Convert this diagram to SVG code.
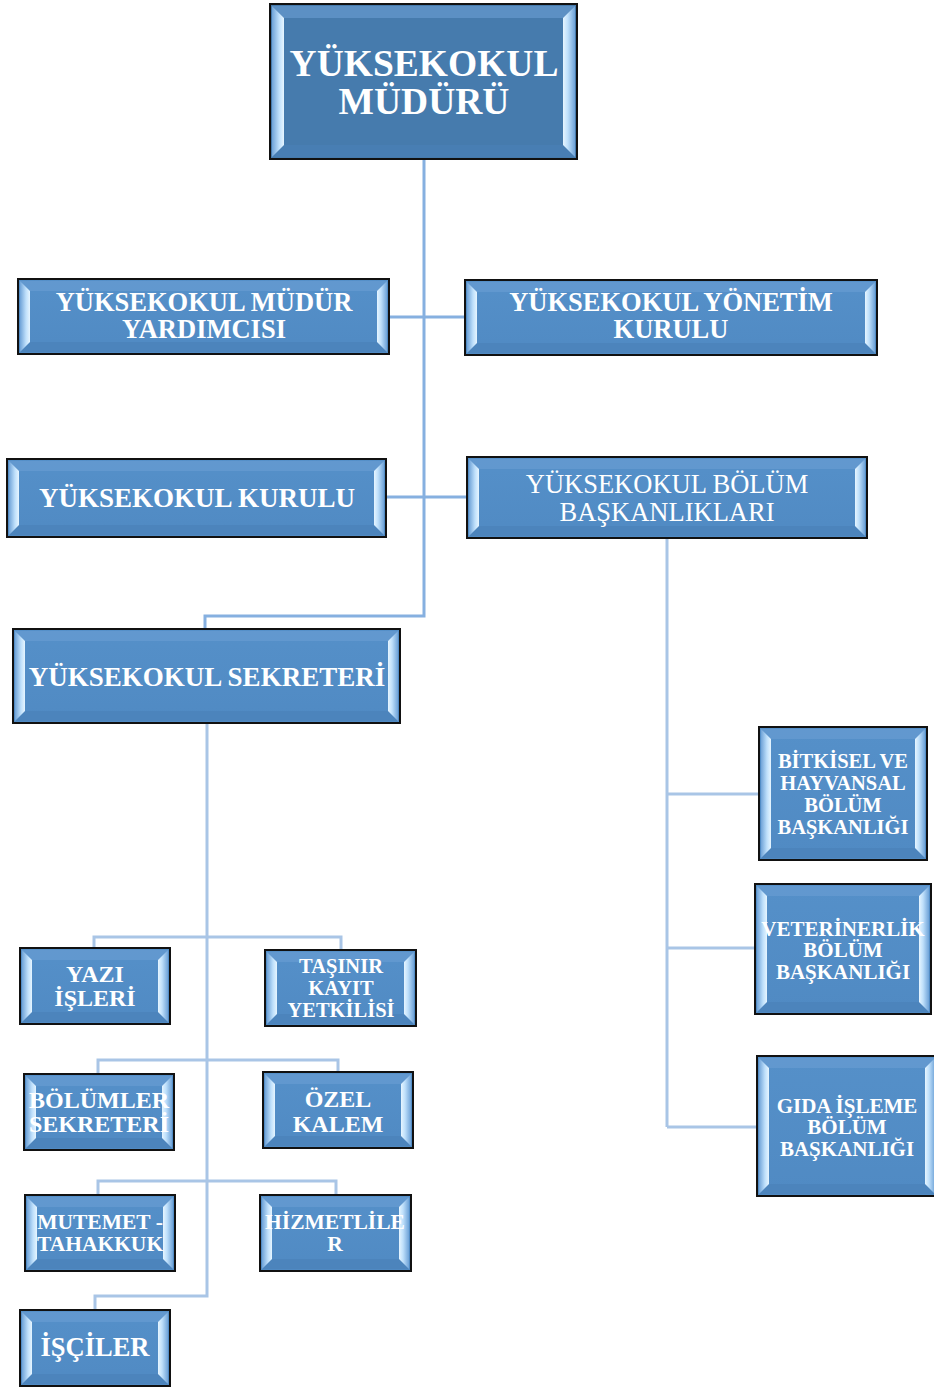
<svg xmlns="http://www.w3.org/2000/svg" width="934" height="1387" viewBox="0 0 934 1387">
<defs>
<linearGradient id="gl" x1="0" y1="0" x2="1" y2="0"><stop offset="0" stop-color="#6fa3d8"/><stop offset="0.6" stop-color="#bfe0fb"/><stop offset="1" stop-color="#e6f5ff"/></linearGradient>
<linearGradient id="gr" x1="1" y1="0" x2="0" y2="0"><stop offset="0" stop-color="#6fa3d8"/><stop offset="0.6" stop-color="#bfe0fb"/><stop offset="1" stop-color="#e6f5ff"/></linearGradient>
<linearGradient id="fill" x1="0" y1="0" x2="0" y2="1"><stop offset="0" stop-color="#5590c9"/><stop offset="1" stop-color="#508ac3"/></linearGradient>
</defs>
<style>
.box{fill:url(#fill);stroke:#111;stroke-width:2}
.boxd{fill:#467bad;stroke:#111;stroke-width:2}
.t{fill:#6a9fd4;opacity:0.6}
.b{fill:#4a80b8;opacity:0.6}
.l{fill:url(#gl)}
.r{fill:url(#gr)}
.tx{font-family:"Liberation Serif","Times New Roman",serif;font-weight:bold;fill:#fff;text-anchor:middle}
.tn{font-weight:normal}
.c1{fill:none;stroke:#86b0e0;stroke-width:3}
.c2{fill:none;stroke:#a9c5e6;stroke-width:3}
</style>
<g id="connectors">
<path class="c1" d="M424 159V616H205V629M389 317H465M386 497H467"/>
<path class="c2" d="M667 538V1127M667 794H759M667 948H755M667 1127H757"/>
<path class="c2" d="M207 723V1296H95V1310M94 948V937H341V950M98 1074V1060H338V1072M98 1195V1181H336V1195"/>
</g>
<g id="n1">
<rect class="boxd" x="270" y="4" width="307" height="155"/>
<polygon class="t" points="272,6 575,6 563,18 284,18"/>
<polygon class="b" points="272,157 575,157 563,145 284,145"/>
<polygon class="l" points="272,6 284,18 284,145 272,157"/>
<polygon class="r" points="575,6 563,18 563,145 575,157"/>
<text class="tx" font-size="37.5" x="424" y="76">YÜKSEKOKUL</text>
<text class="tx" font-size="37.5" x="424" y="114">MÜDÜRÜ</text>
</g>
<g id="n2">
<rect class="box" x="18" y="279" width="371" height="75"/>
<polygon class="t" points="20,281 387,281 377,291 30,291"/>
<polygon class="b" points="20,352 387,352 377,342 30,342"/>
<polygon class="l" points="20,281 30,291 30,342 20,352"/>
<polygon class="r" points="387,281 377,291 377,342 387,352"/>
<text class="tx" font-size="26.5" x="204" y="311">YÜKSEKOKUL MÜDÜR</text>
<text class="tx" font-size="26.5" x="204" y="338">YARDIMCISI</text>
</g>
<g id="n3">
<rect class="box" x="465" y="280" width="412" height="75"/>
<polygon class="t" points="467,282 875,282 865,292 477,292"/>
<polygon class="b" points="467,353 875,353 865,343 477,343"/>
<polygon class="l" points="467,282 477,292 477,343 467,353"/>
<polygon class="r" points="875,282 865,292 865,343 875,353"/>
<text class="tx" font-size="26.5" x="671" y="311">YÜKSEKOKUL YÖNETİM</text>
<text class="tx" font-size="26.5" x="671" y="338">KURULU</text>
</g>
<g id="n4">
<rect class="box" x="7" y="459" width="379" height="78"/>
<polygon class="t" points="9,461 384,461 374,471 19,471"/>
<polygon class="b" points="9,535 384,535 374,525 19,525"/>
<polygon class="l" points="9,461 19,471 19,525 9,535"/>
<polygon class="r" points="384,461 374,471 374,525 384,535"/>
<text class="tx" font-size="27" x="197" y="507">YÜKSEKOKUL KURULU</text>
</g>
<g id="n5">
<rect class="box" x="467" y="457" width="400" height="81"/>
<polygon class="t" points="469,459 865,459 855,469 479,469"/>
<polygon class="b" points="469,536 865,536 855,526 479,526"/>
<polygon class="l" points="469,459 479,469 479,526 469,536"/>
<polygon class="r" points="865,459 855,469 855,526 865,536"/>
<text class="tx tn" font-size="26.5" x="667" y="493">YÜKSEKOKUL BÖLÜM</text>
<text class="tx tn" font-size="26.5" x="667" y="521">BAŞKANLIKLARI</text>
</g>
<g id="n6">
<rect class="box" x="13" y="629" width="387" height="94"/>
<polygon class="t" points="15,631 398,631 388,641 25,641"/>
<polygon class="b" points="15,721 398,721 388,711 25,711"/>
<polygon class="l" points="15,631 25,641 25,711 15,721"/>
<polygon class="r" points="398,631 388,641 388,711 398,721"/>
<text class="tx" font-size="27" x="207" y="686">YÜKSEKOKUL SEKRETERİ</text>
</g>
<g id="n7">
<rect class="box" x="759" y="727" width="168" height="133"/>
<polygon class="t" points="761,729 925,729 915,739 771,739"/>
<polygon class="b" points="761,858 925,858 915,848 771,848"/>
<polygon class="l" points="761,729 771,739 771,848 761,858"/>
<polygon class="r" points="925,729 915,739 915,848 925,858"/>
<text class="tx" font-size="20.5" x="843" y="768">BİTKİSEL VE</text>
<text class="tx" font-size="20.5" x="843" y="790">HAYVANSAL</text>
<text class="tx" font-size="20.5" x="843" y="812">BÖLÜM</text>
<text class="tx" font-size="20.5" x="843" y="834">BAŞKANLIĞI</text>
</g>
<g id="n8">
<rect class="box" x="755" y="884" width="176" height="130"/>
<polygon class="t" points="757,886 929,886 919,896 767,896"/>
<polygon class="b" points="757,1012 929,1012 919,1002 767,1002"/>
<polygon class="l" points="757,886 767,896 767,1002 757,1012"/>
<polygon class="r" points="929,886 919,896 919,1002 929,1012"/>
<text class="tx" font-size="21" x="843" y="936">VETERİNERLİK</text>
<text class="tx" font-size="21" x="843" y="957">BÖLÜM</text>
<text class="tx" font-size="21" x="843" y="979">BAŞKANLIĞI</text>
</g>
<g id="n9">
<rect class="box" x="757" y="1056" width="180" height="140"/>
<polygon class="t" points="759,1058 935,1058 925,1068 769,1068"/>
<polygon class="b" points="759,1194 935,1194 925,1184 769,1184"/>
<polygon class="l" points="759,1058 769,1068 769,1184 759,1194"/>
<polygon class="r" points="935,1058 925,1068 925,1184 935,1194"/>
<text class="tx" font-size="21" x="847" y="1113">GIDA İŞLEME</text>
<text class="tx" font-size="21" x="847" y="1134">BÖLÜM</text>
<text class="tx" font-size="21" x="847" y="1156">BAŞKANLIĞI</text>
</g>
<g id="n10">
<rect class="box" x="20" y="948" width="150" height="76"/>
<polygon class="t" points="22,950 168,950 158,960 32,960"/>
<polygon class="b" points="22,1022 168,1022 158,1012 32,1012"/>
<polygon class="l" points="22,950 32,960 32,1012 22,1022"/>
<polygon class="r" points="168,950 158,960 158,1012 168,1022"/>
<text class="tx" font-size="24" x="95" y="982">YAZI</text>
<text class="tx" font-size="24" x="95" y="1006">İŞLERİ</text>
</g>
<g id="n11">
<rect class="box" x="265" y="950" width="151" height="76"/>
<polygon class="t" points="267,952 414,952 404,962 277,962"/>
<polygon class="b" points="267,1024 414,1024 404,1014 277,1014"/>
<polygon class="l" points="267,952 277,962 277,1014 267,1024"/>
<polygon class="r" points="414,952 404,962 404,1014 414,1024"/>
<text class="tx" font-size="20.5" x="341" y="973">TAŞINIR</text>
<text class="tx" font-size="20.5" x="341" y="995">KAYIT</text>
<text class="tx" font-size="20.5" x="341" y="1017">YETKİLİSİ</text>
</g>
<g id="n12">
<rect class="box" x="24" y="1074" width="150" height="76"/>
<polygon class="t" points="26,1076 172,1076 162,1086 36,1086"/>
<polygon class="b" points="26,1148 172,1148 162,1138 36,1138"/>
<polygon class="l" points="26,1076 36,1086 36,1138 26,1148"/>
<polygon class="r" points="172,1076 162,1086 162,1138 172,1148"/>
<text class="tx" font-size="24" x="99" y="1108">BÖLÜMLER</text>
<text class="tx" font-size="24" x="99" y="1132">SEKRETERİ</text>
</g>
<g id="n13">
<rect class="box" x="263" y="1072" width="150" height="76"/>
<polygon class="t" points="265,1074 411,1074 401,1084 275,1084"/>
<polygon class="b" points="265,1146 411,1146 401,1136 275,1136"/>
<polygon class="l" points="265,1074 275,1084 275,1136 265,1146"/>
<polygon class="r" points="411,1074 401,1084 401,1136 411,1146"/>
<text class="tx" font-size="24" x="338" y="1107">ÖZEL</text>
<text class="tx" font-size="24" x="338" y="1132">KALEM</text>
</g>
<g id="n14">
<rect class="box" x="25" y="1195" width="150" height="76"/>
<polygon class="t" points="27,1197 173,1197 163,1207 37,1207"/>
<polygon class="b" points="27,1269 173,1269 163,1259 37,1259"/>
<polygon class="l" points="27,1197 37,1207 37,1259 27,1269"/>
<polygon class="r" points="173,1197 163,1207 163,1259 173,1269"/>
<text class="tx" font-size="21.5" x="100" y="1229">MUTEMET -</text>
<text class="tx" font-size="21.5" x="100" y="1251">TAHAKKUK</text>
</g>
<g id="n15">
<rect class="box" x="260" y="1195" width="151" height="76"/>
<polygon class="t" points="262,1197 409,1197 399,1207 272,1207"/>
<polygon class="b" points="262,1269 409,1269 399,1259 272,1259"/>
<polygon class="l" points="262,1197 272,1207 272,1259 262,1269"/>
<polygon class="r" points="409,1197 399,1207 399,1259 409,1269"/>
<text class="tx" font-size="21.5" x="335" y="1229">HİZMETLİLE</text>
<text class="tx" font-size="21.5" x="335" y="1251">R</text>
</g>
<g id="n16">
<rect class="box" x="20" y="1310" width="150" height="76"/>
<polygon class="t" points="22,1312 168,1312 158,1322 32,1322"/>
<polygon class="b" points="22,1384 168,1384 158,1374 32,1374"/>
<polygon class="l" points="22,1312 32,1322 32,1374 22,1384"/>
<polygon class="r" points="168,1312 158,1322 158,1374 168,1384"/>
<text class="tx" font-size="26.5" x="95" y="1356">İŞÇİLER</text>
</g>
</svg>
